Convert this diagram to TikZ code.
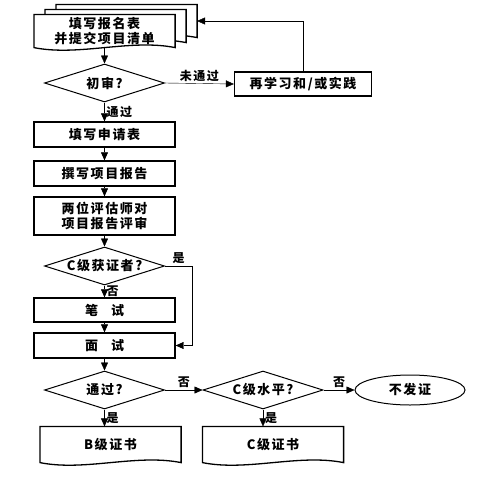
\documentclass[tikz,border=0pt]{standalone}
\usepackage{fontspec}
\setmainfont{Noto Sans CJK SC}[LetterSpace=12]
\usetikzlibrary{arrows.meta,shapes.geometric,positioning,calc,backgrounds}

% document outline with a wavy lower edge
\newcommand\docframe[1]{%
  \draw[line width=1.3pt, fill=white] (#1.south west) -- (#1.north west) -- (#1.north east) -- (#1.south east)
    .. controls ($(#1.south east)+(-45,-9)$) and ($(#1.south west)+(45,9)$) .. cycle;}

\begin{document}
\begin{tikzpicture}[x=1pt, y=-1pt, line width=1.2pt,
				every node/.style={font=\fontsize{13}{15}\selectfont\bfseries},
				arr/.style={-{Triangle[length=8pt,width=7pt]}},
				box/.style={draw, line width=1.3pt, minimum width=141pt, minimum height=25pt, inner sep=1pt, align=center},
				docbox/.style={minimum width=140pt, minimum height=32pt, inner sep=1pt, align=center},
				decide/.style={diamond, draw, line width=1pt, minimum width=120pt, minimum height=38pt, inner sep=0pt, aspect=3.2},
				stopnode/.style={ellipse, draw, line width=1pt, minimum width=110pt, minimum height=30pt},
				lbl/.style={font=\fontsize{12}{14}\selectfont\bfseries, inner sep=2pt}
				]
	\useasboundingbox (0,0) rectangle (481,479);
	% stacked forms
	\node[docbox] (apply) at (104.5,31) {填写报名表\\并提交项目清单};
	\node[docbox] (apply2) at (115.5,26) {};
	\node[docbox] (apply3) at (126.5,21) {};
	\node[decide] (check) at (104.5,83) {初审?};
	\node[box, minimum width=137pt, minimum height=24pt] (redo) at (303,84) {再学习和/或实践};
	\node[box] (form) at (104.5,134.5) {填写申请表};
	\node[box] (report) at (104.5,173.5) {撰写项目报告};
	\node[box, minimum height=38pt] (review) at (104.5,216) {两位评估师对\\项目报告评审};
	\node[decide] (cgrade) at (104.5,266) {C级获证者?};
	\node[box, minimum height=24pt] (written) at (104.5,310) {笔\hspace{1em}试};
	\node[box] (interview) at (104.5,345.5) {面\hspace{1em}试};
	\node[decide] (pass) at (104.5,390) {通过?};
	\node[decide] (clevel) at (263,390) {C级水平?};
	\node[stopnode] (nocert) at (410,390) {不发证};
	\node[docbox, minimum height=35pt] (bcert) at (110.5,444.5) {B级证书};
	\node[docbox, minimum height=35pt] (ccert) at (273,444.5) {C级证书};
	\begin{pgfonlayer}{background}
		\docframe{apply3}\docframe{apply2}\docframe{apply}
		\docframe{bcert}\docframe{ccert}
	\end{pgfonlayer}

	\draw[arr] (apply.south) -- (check.north);
	\draw[arr] (check.east) -- node[lbl, above] (lfail) {未通过} (redo.west);
	\draw[arr] (redo.north) |- (apply3.east);
	\draw[arr] (check.south) -- node[lbl, right] (lpass) {通过} (form.north);
	\draw[arr] (form) -- (report);
	\draw[arr] (report) -- (review);
	\draw[arr] (review) -- (cgrade);
	\draw[arr] (cgrade.south) -- node[lbl, right] (lno1) {否} (written.north);
	\draw[arr] (cgrade.east) -- node[lbl, above] (lyes1) {是} ++(27,0) |- (interview.east);
	\draw[arr] (written) -- (interview);
	\draw[arr] (interview) -- (pass);
	\draw[arr] (pass.east) -- node[lbl, above] (lno2) {否} (clevel.west);
	\draw[arr] (clevel.east) -- node[lbl, above] (lno3) {否} (nocert.west);
	\draw[arr] (pass.south) -- node[lbl, right] (lyes2) {是} (pass.south |- bcert.north);
	\draw[arr] (clevel.south) -- node[lbl, right] (lyes3) {是} (clevel.south |- ccert.north);
\end{tikzpicture}
\end{document}
